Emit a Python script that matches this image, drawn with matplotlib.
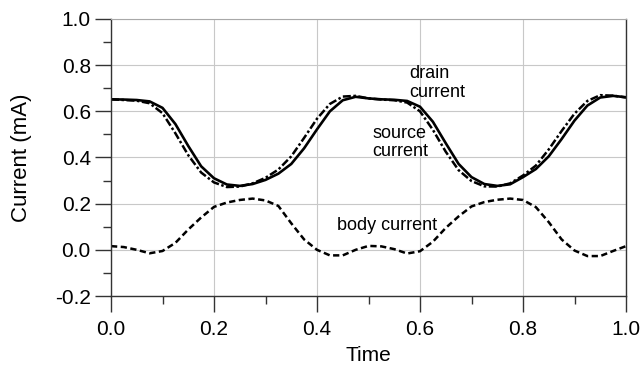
"""
Drain, source and body current over one normalised time span.

Output:
    out.png
"""

import numpy as np
import matplotlib
matplotlib.use("Agg")
import matplotlib.pyplot as plt
from matplotlib.ticker import MultipleLocator, FormatStrFormatter


# ---------------------------------------------------------------------
# Plot style
# ---------------------------------------------------------------------

plt.rcParams.update({
    "font.family": ["Liberation Sans", "DejaVu Sans"],
    "font.size": 15,
    "axes.unicode_minus": False,
})


# ---------------------------------------------------------------------
# Data (mA)
# ---------------------------------------------------------------------

time = np.linspace(0.0, 1.0, 41)

drain_current = [
    0.652, 0.651, 0.649, 0.643, 0.615, 0.545, 0.450, 0.362, 0.310, 0.283,
    0.277, 0.285, 0.303, 0.330, 0.372, 0.440, 0.522, 0.600, 0.648, 0.663,
    0.656, 0.652, 0.650, 0.645, 0.620, 0.555, 0.462, 0.372, 0.315, 0.285,
    0.277, 0.284, 0.315, 0.350, 0.405, 0.480, 0.560, 0.625, 0.660, 0.667,
    0.661,
]

source_current = [
    0.652, 0.649, 0.646, 0.635, 0.592, 0.505, 0.410, 0.335, 0.292, 0.272,
    0.274, 0.288, 0.312, 0.348, 0.405, 0.485, 0.568, 0.632, 0.664, 0.667,
    0.656, 0.651, 0.648, 0.638, 0.600, 0.520, 0.425, 0.345, 0.298, 0.275,
    0.274, 0.288, 0.322, 0.365, 0.435, 0.515, 0.590, 0.645, 0.670, 0.668,
    0.660,
]

body_current = [
    0.016, 0.012, 0.000, -0.015, -0.005, 0.030, 0.088, 0.140, 0.186, 0.205,
    0.216, 0.222, 0.214, 0.190, 0.115, 0.045, 0.000, -0.024, -0.024, 0.000,
    0.017, 0.015, 0.003, -0.016, -0.006, 0.035, 0.095, 0.145, 0.188, 0.207,
    0.217, 0.222, 0.216, 0.185, 0.120, 0.045, -0.003, -0.027, -0.027, -0.005,
    0.016,
]

labels = ["drain\ncurrent", "source\ncurrent", "body current"]
# position of the last line's baseline, in data units
label_x = [0.579, 0.507, 0.439]
label_y = [0.664, 0.407, 0.085]


# ---------------------------------------------------------------------
# Figure
# ---------------------------------------------------------------------

fig = plt.figure(figsize=(6.44, 3.80), dpi=100)
ax = fig.add_axes([111 / 644, 84 / 380, 515 / 644, 277 / 380])

ax.plot(time, drain_current, color="black", linewidth=1.9,
        solid_joinstyle="round")
ax.plot(time, source_current, color="black", linewidth=1.8,
        linestyle=(0, (3.2, 1.0, 1.0, 1.0)))
ax.plot(time, body_current, color="black", linewidth=1.8,
        linestyle=(0, (2.5, 1.4)))

for text, x, y in zip(labels, label_x, label_y):
    ax.text(x, y, text, fontsize=13, ha="left", va="baseline",
            linespacing=1.1)

ax.set_xlim(0.0, 1.0)
ax.set_ylim(-0.2, 1.0)

ax.xaxis.set_major_locator(MultipleLocator(0.2))
ax.xaxis.set_minor_locator(MultipleLocator(0.1))
ax.yaxis.set_major_locator(MultipleLocator(0.2))
ax.yaxis.set_minor_locator(MultipleLocator(0.1))
ax.xaxis.set_major_formatter(FormatStrFormatter("%.1f"))
ax.yaxis.set_major_formatter(FormatStrFormatter("%.1f"))

ax.tick_params(which="major", direction="out", length=11.5, width=1.0,
               color="#333333", labelsize=15)
ax.tick_params(axis="x", which="major", pad=5.5)
ax.tick_params(axis="y", which="major", pad=3)
ax.tick_params(which="minor", direction="out", length=5.8, width=1.0,
               color="#333333")

ax.grid(True, which="major", color="#c8c8c8", linewidth=0.8)
ax.set_axisbelow(True)

for side in ["left", "bottom", "right"]:
    ax.spines[side].set_color("#333333")
    ax.spines[side].set_linewidth(1.0)
ax.spines["top"].set_color("#a8a8a8")
ax.spines["top"].set_linewidth(0.8)

ax.set_xlabel("Time", fontsize=15)
ax.set_ylabel("Current (mA)", fontsize=16)
ax.xaxis.set_label_coords(0.5, -0.18)
ax.yaxis.set_label_coords(-0.153, 0.5)

fig.savefig("out.png", dpi=100)
